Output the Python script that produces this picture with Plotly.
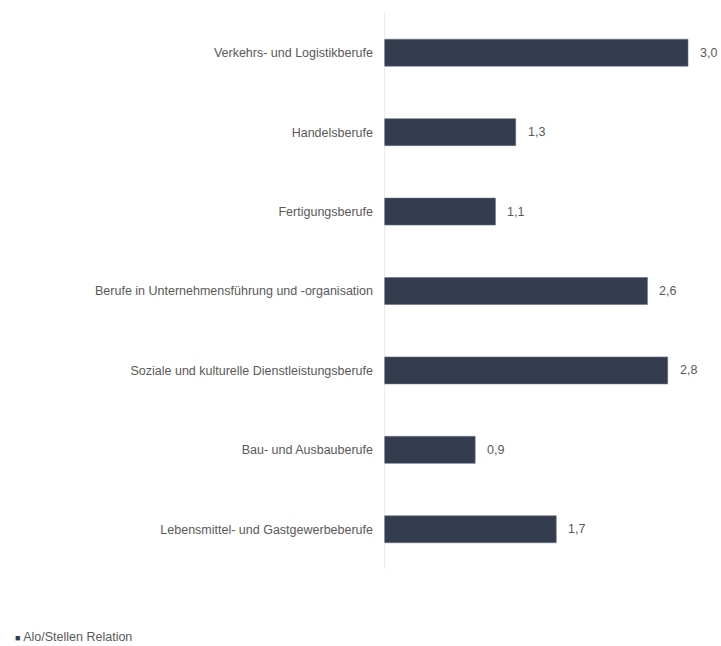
import plotly.graph_objects as go

# Berufsgruppen (top to bottom) and their Alo/Stellen ratio
categories = [
    "Verkehrs- und Logistikberufe",
    "Handelsberufe",
    "Fertigungsberufe",
    "Berufe in Unternehmensführung und -organisation",
    "Soziale und kulturelle Dienstleistungsberufe",
    "Bau- und Ausbauberufe",
    "Lebensmittel- und Gastgewerbeberufe",
]
values = [3.0, 1.3, 1.1, 2.6, 2.8, 0.9, 1.7]
series_name = "Alo/Stellen Relation"

bar_color = "#333d4f"
text_color = "#595959"
font_family = "Liberation Sans, Arial, sans-serif"
font_size = 12.5

fig = go.Figure()
fig.add_trace(go.Bar(
    y=categories,
    x=values,
    orientation="h",
    name=series_name,
    marker=dict(color=bar_color, line=dict(color="#6b7382", width=0.6)),
    width=0.34,
    showlegend=False,
))

# value labels to the right of each bar
for cat, val in zip(categories, values):
    fig.add_annotation(
        x=val, y=cat, xref="x", yref="y",
        text=f"{val:.1f}".replace(".", ","),
        showarrow=False, xanchor="left", yanchor="middle", xshift=10,
        font=dict(family=font_family, size=font_size, color=text_color),
    )

# legend entry at the bottom left
fig.add_annotation(
    x=13, y=637, xref="paper", yref="paper",
    text=f"<span style='color:{bar_color}; font-size:9px'>■</span> {series_name}",
    showarrow=False, xanchor="left", yanchor="middle",
    font=dict(family=font_family, size=font_size, color=text_color),
)

W, H = 721, 646
left, right, top, bottom = 384, 3, 13, 77
plot_w = W - left - right
px_per_unit = 304 / 3.0
fig.update_layout(
    width=W, height=H,
    margin=dict(l=left, r=right, t=top, b=bottom),
    paper_bgcolor="white", plot_bgcolor="white",
    font=dict(family=font_family, size=font_size, color=text_color),
    xaxis=dict(range=[0, plot_w / px_per_unit], visible=False, fixedrange=True),
    yaxis=dict(
        categoryorder="array", categoryarray=categories[::-1],
        showgrid=False, showline=False, zeroline=False,
        ticks="", ticklabelstandoff=10,
        tickfont=dict(family=font_family, size=font_size, color=text_color),
    ),
    shapes=[dict(type="line", xref="x", yref="paper", x0=0, x1=0, y0=0, y1=1,
                 line=dict(color="#d9d9d9", width=1))],
    bargap=0.66,
)

# convert the legend annotation's pixel position to paper coordinates
ann = fig.layout.annotations[-1]
plot_h = H - top - bottom
ann.x = (ann.x - left) / plot_w
ann.y = (H - bottom - ann.y) / plot_h

fig.write_html("out.html")
